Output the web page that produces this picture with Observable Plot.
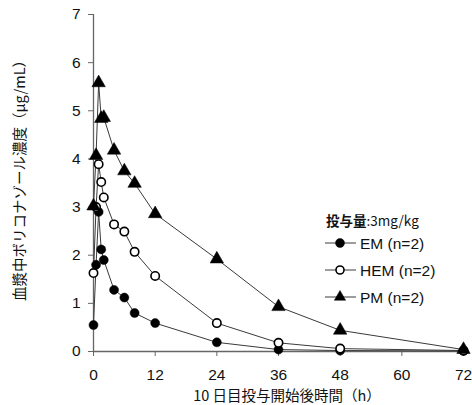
<!DOCTYPE html>
<html><head><meta charset="utf-8">
<script src="https://cdn.jsdelivr.net/npm/d3@7"></script>
<script src="https://cdn.jsdelivr.net/npm/@observablehq/plot@0.6"></script>
<style>
body{margin:0;background:#fff;}
#chart{width:472px;height:405px;}
</style></head>
<body><div id="chart"></div>
<script>
const times = [0, 0.5, 1, 1.5, 2, 4, 6, 8, 12, 24, 36, 48, 72];
const emValues  = [0.55, 1.80, 2.90, 2.12, 1.90, 1.28, 1.12, 0.80, 0.59, 0.19, 0.04, 0.02, 0.01];
const hemValues = [1.63, 3.00, 3.89, 3.52, 3.20, 2.64, 2.49, 2.07, 1.57, 0.59, 0.18, 0.06, 0.02];
const pmValues  = [3.02, 4.07, 5.58, 4.84, 4.86, 4.18, 3.75, 3.49, 2.86, 1.92, 0.93, 0.44, 0.04];
const seriesNames = ["EM (n=2)", "HEM (n=2)", "PM (n=2)"];
const xTicks = [0, 12, 24, 36, 48, 60, 72];
const yTicks = [0, 1, 2, 3, 4, 5, 6, 7];
const yLabel = "血漿中ボリコナゾール濃度（μg/mL）";
const xLabel = "10 日目投与開始後時間（h）";
const legendTitle = "投与量";
const legendDose = ":3mg/kg";

const mk = (vals) => times.map((t, i) => ({t, v: vals[i]}));
const em = mk(emValues), hem = mk(hemValues), pm = mk(pmValues);

const numFont = "'Liberation Sans', Arial, sans-serif";
const jpFont = "'Noto Sans CJK JP', sans-serif";
const lineColor = "#3a3a3a";

const plot = Plot.plot({
  width: 472, height: 405,
  marginLeft: 93, marginRight: 9, marginTop: 14, marginBottom: 54,
  style: {fontFamily: numFont, fontSize: "15.5px", color: "#111", background: "#fff"},
  x: {domain: [0, 72], ticks: xTicks},
  y: {domain: [0, 7], ticks: yTicks},
  marks: [
    Plot.axisX({ticks: xTicks, tickFormat: "d", tickSize: 5, tickPadding: 12, label: null, stroke: "#666", fontSize: 15.5}),
    Plot.axisY({ticks: yTicks, tickFormat: "d", tickSize: 5, tickPadding: 8, label: null, stroke: "#666", fontSize: 15.5}),
    Plot.ruleY([0], {stroke: "#666", strokeWidth: 1.3}),
    Plot.ruleX([0], {stroke: "#666", strokeWidth: 1.3}),
    Plot.line(em, {x: "t", y: "v", stroke: lineColor, strokeWidth: 1}),
    Plot.line(hem, {x: "t", y: "v", stroke: lineColor, strokeWidth: 1}),
    Plot.line(pm, {x: "t", y: "v", stroke: lineColor, strokeWidth: 1}),
    Plot.dot(em, {x: "t", y: "v", r: 4.5, fill: "#000", stroke: "#000", strokeWidth: 0.5}),
    Plot.dot(hem, {x: "t", y: "v", r: 4.2, fill: "#fff", stroke: "#000", strokeWidth: 1.6}),
    Plot.dot(pm, {x: "t", y: "v", r: 5, symbol: "triangle", fill: "#000", stroke: "#000", strokeWidth: 0.5})
  ]
});
document.getElementById("chart").appendChild(plot);

const svg = d3.select(plot);
// axis titles
svg.append("text")
  .attr("transform", "translate(18,177) rotate(-90)")
  .attr("text-anchor", "middle").attr("dominant-baseline", "central")
  .style("font-family", jpFont).style("font-size", "14.5px").attr("fill", "#111")
  .text(yLabel);
svg.append("text")
  .attr("x", 287).attr("y", 394)
  .attr("text-anchor", "middle").attr("dominant-baseline", "central")
  .style("font-family", jpFont).style("font-size", "14.5px").attr("fill", "#111")
  .text(xLabel);

// legend
const lg = svg.append("g").attr("transform", "translate(326,0)").attr("text-anchor", "start");
const tt = lg.append("text").attr("x", 0).attr("y", 220).attr("dominant-baseline", "central")
  .attr("text-anchor", "start").style("font-size", "13.5px").attr("fill", "#111");
tt.append("tspan").style("font-family", jpFont).style("font-weight", "bold").text(legendTitle);
tt.append("tspan").style("font-family", jpFont).text(legendDose);
const symbols = [
  {sym: d3.symbolCircle, size: Math.PI * 4.5 * 4.5, fill: "#000", sw: 0.5},
  {sym: d3.symbolCircle, size: Math.PI * 4 * 4, fill: "#fff", sw: 1.6},
  {sym: d3.symbolTriangle, size: 55, fill: "#000", sw: 0.5}
];
const rowY = [243, 270, 297];
seriesNames.forEach((name, i) => {
  const y = rowY[i];
  lg.append("line").attr("x1", -1).attr("x2", 30).attr("y1", y).attr("y2", y)
    .attr("stroke", lineColor).attr("stroke-width", 1);
  lg.append("path").attr("d", d3.symbol(symbols[i].sym, symbols[i].size)())
    .attr("transform", `translate(14,${y})`)
    .attr("fill", symbols[i].fill).attr("stroke", "#000").attr("stroke-width", symbols[i].sw);
  lg.append("text").attr("x", 34).attr("y", y).attr("dominant-baseline", "central")
    .attr("text-anchor", "start")
    .style("font-family", numFont).style("font-size", "15.5px").attr("fill", "#111")
    .text(name);
});
</script>
</body></html>
